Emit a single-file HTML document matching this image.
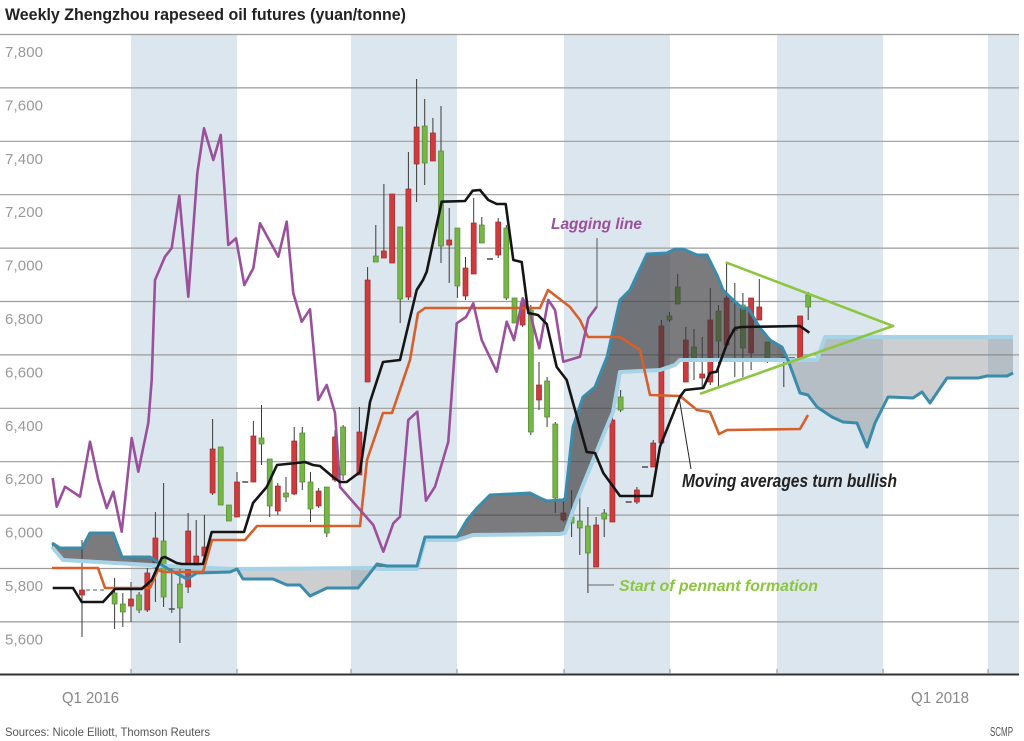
<!DOCTYPE html>
<html><head><meta charset="utf-8"><style>
html,body{margin:0;padding:0;background:#fff;}
svg{display:block;font-family:"Liberation Sans",sans-serif;}
</style></head><body>
<svg width="1024" height="741" viewBox="0 0 1024 741" xmlns="http://www.w3.org/2000/svg">
<rect width="1024" height="741" fill="#fff"/>
<text x="5" y="20" font-size="17" font-weight="bold" fill="#222" textLength="401" lengthAdjust="spacingAndGlyphs">Weekly Zhengzhou rapeseed oil futures (yuan/tonne)</text>
<g fill="#dce6ee">
<rect x="131" y="34.5" width="106" height="640"/>
<rect x="351" y="34.5" width="106" height="640"/>
<rect x="564" y="34.5" width="106" height="640"/>
<rect x="777" y="34.5" width="106" height="640"/>
<rect x="988" y="34.5" width="31" height="640"/>
</g>
<g stroke="#9c9c9c" stroke-width="1.2">
<line x1="0" x2="1019" y1="34.5" y2="34.5"/><line x1="0" x2="1019" y1="87.9" y2="87.9"/>
<line x1="0" x2="1019" y1="141.3" y2="141.3"/><line x1="0" x2="1019" y1="194.7" y2="194.7"/>
<line x1="0" x2="1019" y1="248.1" y2="248.1"/><line x1="0" x2="1019" y1="301.5" y2="301.5"/>
<line x1="0" x2="1019" y1="354.9" y2="354.9"/><line x1="0" x2="1019" y1="408.3" y2="408.3"/>
<line x1="0" x2="1019" y1="461.7" y2="461.7"/><line x1="0" x2="1019" y1="515.1" y2="515.1"/>
<line x1="0" x2="1019" y1="568.5" y2="568.5"/><line x1="0" x2="1019" y1="621.9" y2="621.9"/>
</g>
<g font-size="15" fill="#999">
<text x="5" y="57" textLength="38">7,800</text><text x="5" y="110.4" textLength="38">7,600</text>
<text x="5" y="163.8" textLength="38">7,400</text><text x="5" y="217.2" textLength="38">7,200</text>
<text x="5" y="270.6" textLength="38">7,000</text><text x="5" y="324" textLength="38">6,800</text>
<text x="5" y="377.4" textLength="38">6,600</text><text x="5" y="430.8" textLength="38">6,400</text>
<text x="5" y="484.2" textLength="38">6,200</text><text x="5" y="537.6" textLength="38">6,000</text>
<text x="5" y="591" textLength="38">5,800</text><text x="5" y="644.4" textLength="38">5,600</text>
</g>
<line x1="0" x2="1019" y1="674.5" y2="674.5" stroke="#333" stroke-width="2"/>
<g stroke="#888" stroke-width="1">
<line x1="131" x2="131" y1="669" y2="674"/><line x1="237" x2="237" y1="669" y2="674"/>
<line x1="351" x2="351" y1="669" y2="674"/><line x1="457" x2="457" y1="669" y2="674"/>
<line x1="564" x2="564" y1="669" y2="674"/><line x1="670" x2="670" y1="669" y2="674"/>
<line x1="777" x2="777" y1="669" y2="674"/><line x1="883" x2="883" y1="669" y2="674"/>
<line x1="988" x2="988" y1="669" y2="674"/>
</g>
<text x="62" y="703" font-size="16" fill="#888" textLength="57" lengthAdjust="spacingAndGlyphs">Q1 2016</text>
<text x="911" y="703" font-size="16" fill="#888" textLength="58" lengthAdjust="spacingAndGlyphs">Q1 2018</text>
<text x="5" y="736" font-size="12" fill="#555" textLength="205" lengthAdjust="spacingAndGlyphs">Sources: Nicole Elliott, Thomson Reuters</text>
<text x="990" y="736" font-size="13" fill="#555" textLength="23" lengthAdjust="spacingAndGlyphs">SCMP</text>

<!-- wicks -->
<g stroke="#3a3a3a" stroke-width="1">
<line x1="82" x2="82" y1="540" y2="637"/><line x1="131" x2="131" y1="582" y2="622"/><line x1="147.3" x2="147.3" y1="568" y2="612"/>
<line x1="155.4" x2="155.4" y1="512" y2="602"/><line x1="188.1" x2="188.1" y1="513" y2="593"/><line x1="196.2" x2="196.2" y1="520" y2="567"/>
<line x1="204.4" x2="204.4" y1="515" y2="557"/><line x1="212.6" x2="212.6" y1="419" y2="495"/><line x1="237" x2="237" y1="472" y2="517"/>
<line x1="253.4" x2="253.4" y1="421" y2="482"/><line x1="277.8" x2="277.8" y1="483" y2="515"/><line x1="294.2" x2="294.2" y1="427" y2="495"/>
<line x1="318.6" x2="318.6" y1="488" y2="508"/><line x1="335" x2="335" y1="430" y2="482"/><line x1="359.4" x2="359.4" y1="407" y2="475"/>
<line x1="367.6" x2="367.6" y1="267" y2="382"/><line x1="383.9" x2="383.9" y1="184" y2="258"/><line x1="408.4" x2="408.4" y1="152" y2="300"/>
<line x1="416.6" x2="416.6" y1="79" y2="202"/><line x1="432.9" x2="432.9" y1="118" y2="161"/><line x1="449.2" x2="449.2" y1="208" y2="283"/>
<line x1="465.5" x2="465.5" y1="257" y2="300"/><line x1="473.7" x2="473.7" y1="198" y2="274"/><line x1="498.2" x2="498.2" y1="218" y2="258"/>
<line x1="522.6" x2="522.6" y1="300" y2="327"/><line x1="539" x2="539" y1="362" y2="410"/><line x1="563.4" x2="563.4" y1="498" y2="522"/>
<line x1="596.1" x2="596.1" y1="517" y2="567"/><line x1="612.4" x2="612.4" y1="405" y2="522"/><line x1="636.9" x2="636.9" y1="487" y2="504"/>
<line x1="653.2" x2="653.2" y1="440" y2="467"/><line x1="661.4" x2="661.4" y1="320" y2="443"/><line x1="685.8" x2="685.8" y1="327" y2="382"/>
<line x1="702.2" x2="702.2" y1="337" y2="387"/><line x1="710.3" x2="710.3" y1="288" y2="385"/><line x1="726.6" x2="726.6" y1="263" y2="345"/>
<line x1="751.1" x2="751.1" y1="298" y2="370"/><line x1="759.3" x2="759.3" y1="279" y2="320"/>
<line x1="114.6" x2="114.6" y1="578" y2="629"/><line x1="122.8" x2="122.8" y1="593" y2="627"/><line x1="139.1" x2="139.1" y1="592" y2="613"/>
<line x1="163.6" x2="163.6" y1="483" y2="607"/><line x1="179.9" x2="179.9" y1="567" y2="643"/><line x1="261.5" x2="261.5" y1="405" y2="465"/>
<line x1="269.7" x2="269.7" y1="459" y2="517"/><line x1="286" x2="286" y1="477" y2="502"/><line x1="302.3" x2="302.3" y1="427" y2="490"/>
<line x1="310.5" x2="310.5" y1="472" y2="522"/><line x1="326.8" x2="326.8" y1="487" y2="537"/><line x1="343.1" x2="343.1" y1="425" y2="480"/>
<line x1="375.8" x2="375.8" y1="225" y2="262"/><line x1="400.2" x2="400.2" y1="227" y2="323"/><line x1="424.7" x2="424.7" y1="99" y2="185"/>
<line x1="441" x2="441" y1="106" y2="263"/><line x1="457.4" x2="457.4" y1="228" y2="298"/><line x1="481.8" x2="481.8" y1="217" y2="243"/>
<line x1="506.3" x2="506.3" y1="225" y2="300"/><line x1="530.8" x2="530.8" y1="305" y2="435"/><line x1="547.1" x2="547.1" y1="377" y2="427"/>
<line x1="555.3" x2="555.3" y1="422" y2="513"/><line x1="571.6" x2="571.6" y1="490" y2="537"/><line x1="579.8" x2="579.8" y1="490" y2="555"/>
<line x1="587.9" x2="587.9" y1="507" y2="593"/><line x1="604.2" x2="604.2" y1="509" y2="537"/><line x1="620.6" x2="620.6" y1="390" y2="412"/>
<line x1="669.5" x2="669.5" y1="312" y2="322"/><line x1="677.7" x2="677.7" y1="274" y2="304"/><line x1="694" x2="694" y1="329" y2="380"/>
<line x1="718.5" x2="718.5" y1="305" y2="387"/><line x1="742.9" x2="742.9" y1="293" y2="377"/><line x1="767.4" x2="767.4" y1="342" y2="363"/>
<line x1="808.2" x2="808.2" y1="292" y2="320"/>
<line x1="171.8" x2="171.8" y1="565" y2="613"/><line x1="734.8" x2="734.8" y1="283" y2="377"/><line x1="783.8" x2="783.8" y1="358" y2="387"/>
</g>
<!-- red bodies -->
<g fill="#cf3a3d" stroke="#9e2a2c" stroke-width="0.7">
<rect x="79.5" y="590" width="5" height="5"/><rect x="128.5" y="599" width="5" height="7"/><rect x="144.8" y="573" width="5" height="37"/>
<rect x="152.9" y="538" width="5" height="29"/><rect x="185.6" y="531" width="5" height="56"/><rect x="193.7" y="556" width="5" height="11"/>
<rect x="201.9" y="547" width="5" height="9"/><rect x="210.1" y="449" width="5" height="44"/><rect x="234.5" y="482" width="5" height="35"/>
<rect x="250.9" y="436" width="5" height="46"/><rect x="275.3" y="486" width="5" height="25"/><rect x="291.7" y="441" width="5" height="53"/>
<rect x="316.1" y="491" width="5" height="15"/><rect x="332.5" y="437" width="5" height="43"/><rect x="356.9" y="432" width="5" height="43"/>
<rect x="365.1" y="280" width="5" height="102"/><rect x="381.4" y="251" width="5" height="7"/><rect x="389.6" y="194" width="5" height="69"/>
<rect x="405.9" y="189" width="5" height="108"/><rect x="414.1" y="127" width="5" height="37"/><rect x="430.4" y="133" width="5" height="28"/>
<rect x="446.7" y="240" width="5" height="5"/><rect x="463" y="268" width="5" height="28"/><rect x="471.2" y="223" width="5" height="51"/>
<rect x="495.7" y="222" width="5" height="33"/><rect x="520.1" y="303" width="5" height="22"/><rect x="536.5" y="385" width="5" height="15"/>
<rect x="560.9" y="513" width="5" height="7"/><rect x="593.6" y="525" width="5" height="42"/><rect x="609.9" y="420" width="5" height="102"/>
<rect x="634.4" y="490" width="5" height="12"/><rect x="650.7" y="443" width="5" height="24"/><rect x="658.9" y="326" width="5" height="117"/>
<rect x="683.3" y="340" width="5" height="42"/><rect x="699.7" y="374" width="5" height="4"/><rect x="707.8" y="320" width="5" height="62"/>
<rect x="724.1" y="298" width="5" height="47"/><rect x="748.6" y="298" width="5" height="55"/><rect x="756.8" y="307" width="5" height="13"/>
<rect x="797.6" y="316" width="5" height="42"/>
</g>
<!-- green bodies -->
<g fill="#78b548" stroke="#4f8a2e" stroke-width="0.7">
<rect x="112.1" y="593" width="5" height="11"/><rect x="120.3" y="604" width="5" height="8"/><rect x="136.6" y="595" width="5" height="15"/>
<rect x="161.1" y="541" width="5" height="56"/><rect x="177.4" y="584" width="5" height="24"/><rect x="218.2" y="447" width="5" height="58"/>
<rect x="226.4" y="505" width="5" height="16"/><rect x="259" y="438" width="5" height="6"/><rect x="267.2" y="459" width="5" height="47"/>
<rect x="283.5" y="493" width="5" height="4"/><rect x="299.8" y="433" width="5" height="49"/><rect x="308" y="482" width="5" height="27"/>
<rect x="324.3" y="487" width="5" height="46"/><rect x="340.6" y="427" width="5" height="48"/><rect x="373.3" y="256" width="5" height="6"/>
<rect x="397.7" y="227" width="5" height="72"/><rect x="422.2" y="126" width="5" height="37"/><rect x="438.5" y="151" width="5" height="95"/>
<rect x="454.9" y="228" width="5" height="58"/><rect x="479.3" y="225" width="5" height="18"/><rect x="503.8" y="228" width="5" height="70"/>
<rect x="512" y="298" width="5" height="25"/><rect x="528.3" y="310" width="5" height="122"/><rect x="544.6" y="381" width="5" height="36"/>
<rect x="552.8" y="424" width="5" height="74"/><rect x="569.1" y="517" width="5" height="6"/><rect x="577.3" y="521" width="5" height="7"/>
<rect x="585.4" y="526" width="5" height="27"/><rect x="601.7" y="513" width="5" height="6"/><rect x="618.1" y="397" width="5" height="13"/>
<rect x="667" y="316" width="5" height="4"/><rect x="675.2" y="287" width="5" height="17"/><rect x="691.5" y="347" width="5" height="12"/>
<rect x="716" y="311" width="5" height="30"/><rect x="740.4" y="305" width="5" height="43"/><rect x="764.9" y="342" width="5" height="19"/>
<rect x="805.7" y="295" width="5" height="12"/>
</g>
<!-- dojis -->
<g stroke="#555" stroke-width="1.6">
<line x1="168.8" x2="174.8" y1="609" y2="609"/><line x1="242.2" x2="248.2" y1="482" y2="482"/><line x1="487" x2="493" y1="259" y2="259"/>
<line x1="625.7" x2="631.7" y1="502" y2="502"/><line x1="642" x2="648" y1="467" y2="467"/><line x1="731.8" x2="737.8" y1="330" y2="330"/>
<line x1="780.8" x2="786.8" y1="358" y2="358"/><line x1="788.9" x2="794.9" y1="358" y2="358"/>
</g>
<line x1="86" x2="104" y1="590" y2="590" stroke="#777" stroke-width="1.2" stroke-dasharray="4,3"/>

<!-- cloud fills -->
<g fill="#3c3c40" fill-opacity="0.68">
<polygon points="52,543 60,548 82,548 90,533 113,533 122,557 150,557 161,565.5 150,565 63,560 52,547"/>
<polygon points="374,568 377,564 387,566 417,566 425,537 457,537 467,520 477,508 490,495 530,493 540,498 547,501 560,500 565,500 573,427 583,397 595,387 607,357 620,300 630,290 647,254 667,253 675,249 683,249 697,255 707,255 717,275 723,290 730,297 742,308 748,308 760,328 770,340 782,347 788,360 680,360 675,365 660,370 620,372 613,412 603,436 590,468 575,505 565,533 560,534 473,535 467,537 457,540 425,540 417,569 380,569"/>
</g>
<g fill="#707478" fill-opacity="0.35">
<polygon points="161,565.5 187,567 233,569 374,568 367,577 358,588 327,588 310,596 300,585 287,585 273,579 243,579 237,569 230,572 197,573 187,579 170,570 162,565"/>
<polygon points="788,360 817,360 825,337 1013,337 1013,373 1007,376 987,376 978,378 947,378 930,403 922,392 913,398 888,397 875,423 867,447 857,423 843,422 832,417 817,407 808,395 800,393"/>
</g>
<!-- cloud lines -->
<polyline fill="none" stroke="#a6d3e6" stroke-width="4" stroke-linejoin="round" points="52,547 63,560 150,565 187,567 233,569 372,568 380,569 417,569 425,540 457,540 467,537 473,535 560,534 565,533 575,505 590,468 603,436 613,412 620,372 660,370 675,365 680,360 817,360 825,337 1013,337"/>
<polyline fill="none" stroke="#3b8bab" stroke-width="3" stroke-linejoin="round" points="52,543 60,548 82,548 90,533 113,533 122,557 150,557 162,565 170,570 187,579 197,573 230,572 237,569 243,579 273,579 287,585 300,585 310,596 327,588 358,588 367,577 377,564 387,566 417,566 425,537 457,537 467,520 477,508 490,495 530,493 540,498 547,501 560,500 565,500 573,427 583,397 595,387 607,357 620,300 630,290 647,254 667,253 675,249 683,249 697,255 707,255 717,275 723,290 730,297 742,308 748,308 760,328 770,340 782,347 788,360 800,393 808,395 817,407 832,417 843,422 857,423 867,447 875,423 888,397 913,398 922,392 930,403 947,378 978,378 987,376 1007,376 1013,373"/>

<!-- orange -->
<polyline fill="none" stroke="#d65f2a" stroke-width="2.6" stroke-linejoin="round" points="52,568 98,568 105,588 150,588 158,570 164,572 203,572 212,540 245,540 257,526 360,526 367,460 383,413 392,413 410,360 418,313 425,308 540,308 548,290 570,307 580,320 588,337 620,337 640,350 650,395 680,396 697,410 710,412 719,434 727,430 800,429 808,415"/>
<!-- purple -->
<polyline fill="none" stroke="#9a509a" stroke-width="2.6" stroke-linejoin="round" points="52.7,478 56.7,506.7 65,486.7 80,496.7 90,441.7 98.3,480 106.7,508 113.3,491.7 121.7,531.7 131.7,438 138.3,471.7 148.3,423 151.7,380 155,280 165,256.7 171.7,248 179.3,195.7 188.3,296.7 197.3,173.3 204,128.3 213.3,160 220.7,135 228.3,245 236,238.3 244.3,285 253.3,268.3 260,223.3 278.3,256.7 286.7,221.7 293.3,293.3 301.7,321.7 310,309.3 318.3,400 326.7,385 335,413 340,487 373.3,525 383.3,551.7 393.3,523.3 400,516.7 408.3,420 417.3,411.7 426,500.7 435,486.7 448.3,441.7 456.7,323.3 466,317 473.3,303.3 481.7,340 496.7,371.7 506.7,321.7 514,340 522.7,298.3 530,313 539.3,348.3 548.3,300 555,310 563.3,361.7 580,356.7 588.3,318.3 596.7,306.7"/>
<!-- black -->
<polyline fill="none" stroke="#151515" stroke-width="2.6" stroke-linejoin="round" points="52.7,588 73,588 81.7,602 103,602 115,589 141.7,589 151.7,580 161.7,558 165,557 176.7,563 181.7,564 203,564 211.7,532 244,532 253,503 266.7,487 277,465 296.7,463 305,462 313,465 320,466 333,477 340,482 346.7,482 360,472 370,402 383,362 400,360 416.7,290 423,280 426.7,271.7 441.7,201.7 465,201 472.7,190.7 480,190 488.3,200 496.7,204 505.7,204 513.3,260 521.7,262 528.3,313 538,315 546.7,324 556.7,367 566.7,380 586.7,452 595,453 603.3,473 620,496 651.7,496 660,446.7 680,396.7 685,390 703.3,388 710,373 716.7,371.7 728.3,340 735,328 741.7,327 800,326 809.3,332.7"/>

<!-- pennant -->
<g stroke="#8cc63f" stroke-width="2.6" fill="none" stroke-linecap="round">
<line x1="726.7" y1="262.7" x2="893" y2="326"/>
<line x1="701" y1="393.5" x2="893" y2="326"/>
</g>
<!-- leaders -->
<line x1="597" y1="238" x2="597" y2="307" stroke="#555" stroke-width="1"/>
<line x1="679" y1="397" x2="691" y2="469" stroke="#222" stroke-width="1"/>
<line x1="588" y1="585" x2="614" y2="585" stroke="#666" stroke-width="1"/>
<!-- annotations -->
<text x="551" y="229" font-size="16" font-weight="bold" font-style="italic" fill="#9a509a" textLength="91" lengthAdjust="spacingAndGlyphs">Lagging line</text>
<text x="682" y="487" font-size="18" font-weight="bold" font-style="italic" fill="#222" textLength="215" lengthAdjust="spacingAndGlyphs">Moving averages turn bullish</text>
<text x="619" y="591" font-size="16" font-style="italic" font-weight="bold" fill="#8cc63f" textLength="199" lengthAdjust="spacingAndGlyphs">Start of pennant formation</text>
</svg>
</body></html>
